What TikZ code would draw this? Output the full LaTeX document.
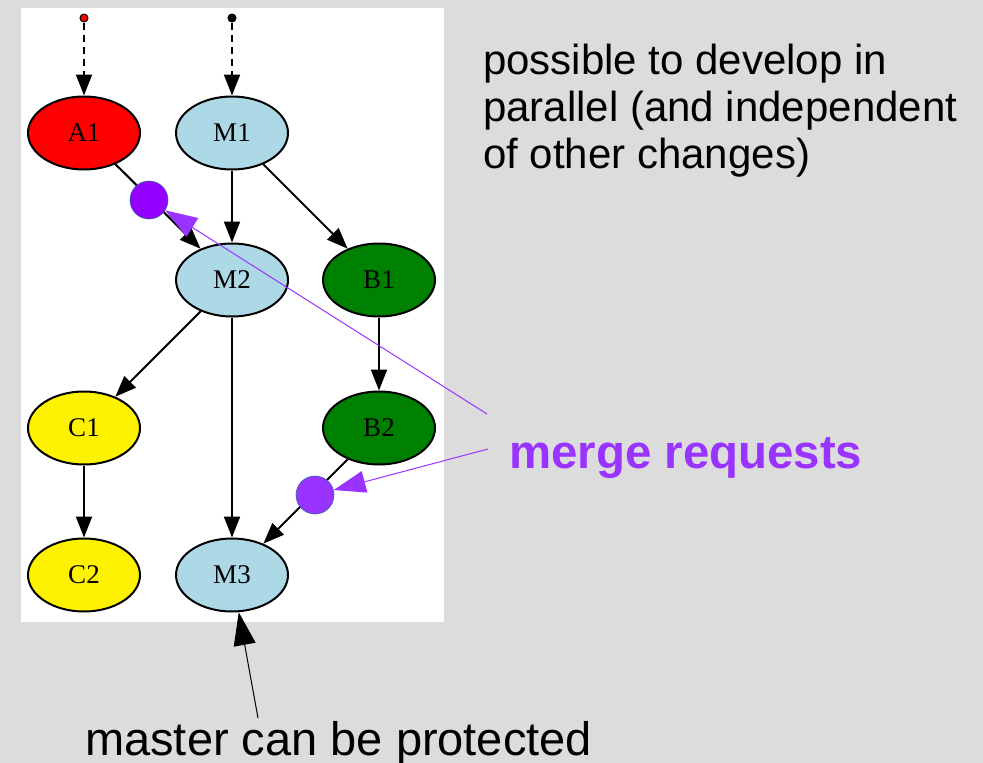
\documentclass[tikz,border=0pt]{standalone}
\usepackage{fontspec}
\setmainfont{Liberation Sans}
\newfontfamily\commitfont{Liberation Serif}
\usetikzlibrary{shapes.geometric,arrows.meta}
\definecolor{bggray}{HTML}{DCDCDC}
\definecolor{mrpurple}{HTML}{9933FF}
\definecolor{mrfill}{HTML}{9400FF}
\definecolor{mrfilltwo}{HTML}{9933FF}
\definecolor{mrrim}{HTML}{3465A4}
\definecolor{lblue}{HTML}{ADD8E6}
\definecolor{ggreen}{HTML}{008000}
\begin{document}
\begin{tikzpicture}[x=1pt,y=-1pt,
  commit/.style={ellipse, draw=black, line width=2pt, minimum width=112pt,
    minimum height=73pt, inner sep=0pt,
    font=\commitfont\fontsize{27}{27}\selectfont},
  dep/.style={draw=black, line width=2.1pt, -{Triangle[length=21pt,width=16pt]}},
  start/.style={circle, draw=black, line width=1pt, minimum size=8pt, inner sep=0pt},
  mrdot/.style={circle, draw=mrrim, line width=0.6pt, minimum size=38pt, inner sep=0pt},
  mrarrow/.style={draw=mrpurple, line width=1pt, -{Triangle[length=32pt,width=22pt]}},
  note/.style={anchor=base west, inner sep=0pt}]
  % canvas
  \fill[bggray] (0,0) rectangle (983,763);
  \useasboundingbox (0,0) rectangle (983,763);
  \fill[white] (21,8) rectangle (444,622);

  % commits
  \node[commit, fill=red]    (a1) at (84,133)  {A1};
  \node[commit, fill=lblue]  (m1) at (232,133) {M1};
  \node[commit, fill=lblue]  (m2) at (232,280) {M2};
  \node[commit, fill=ggreen] (b1) at (379,280) {B1};
  \node[commit, fill=yellow] (c1) at (84,428)  {C1};
  \node[commit, fill=ggreen] (b2) at (379,428) {B2};
  \node[commit, fill=yellow] (c2) at (84,575)  {C2};
  \node[commit, fill=lblue]  (m3) at (232,575) {M3};

  % branch starts
  \node[start, fill=red]   (sa) at (84,18)  {};
  \node[start, fill=black] (sm) at (232,18) {};
  \draw[dep, dash pattern=on 7pt off 5pt] (sa) -- (a1);
  \draw[dep, dash pattern=on 7pt off 5pt] (sm) -- (m1);

  % history
  \draw[dep] (a1) -- (m2);
  \draw[dep] (m1) -- (m2);
  \draw[dep] (m1) -- (b1);
  \draw[dep] (m2) -- (c1);
  \draw[dep] (m2) -- (m3);
  \draw[dep] (b1) -- (b2);
  \draw[dep] (c1) -- (c2);
  \draw[dep] (b2) -- (m3);

  % merge request markers
  \node[mrdot, fill=mrfill]    (mr1) at (149,200) {};
  \node[mrdot, fill=mrfilltwo] (mr2) at (315,495) {};

  % annotations (base anchor of a multi-line node is its last line)
  \node[note, font=\fontsize{42}{46.7}\selectfont, align=left] (par) at (483,168)
    {possible to develop in\\parallel (and independent\\of other changes)};
  \node[note, font=\bfseries\fontsize{47.4}{50}\selectfont, text=mrpurple] (mrt) at (509,468)
    {merge requests};
  \node[note, font=\fontsize{47}{50}\selectfont] (prot) at (85,755)
    {master can be protected};

  \coordinate (mrfrom1) at (487,414);
  \coordinate (mrfrom2) at (488,449);
  \coordinate (protfrom) at (258,718);
  \draw[mrarrow] (mrfrom1) -- (mr1);
  \draw[mrarrow] (mrfrom2) -- (mr2);
  \draw[draw=black, line width=1pt, -{Triangle[length=33pt,width=22pt]}] (protfrom) -- (m3);
\end{tikzpicture}
\end{document}
